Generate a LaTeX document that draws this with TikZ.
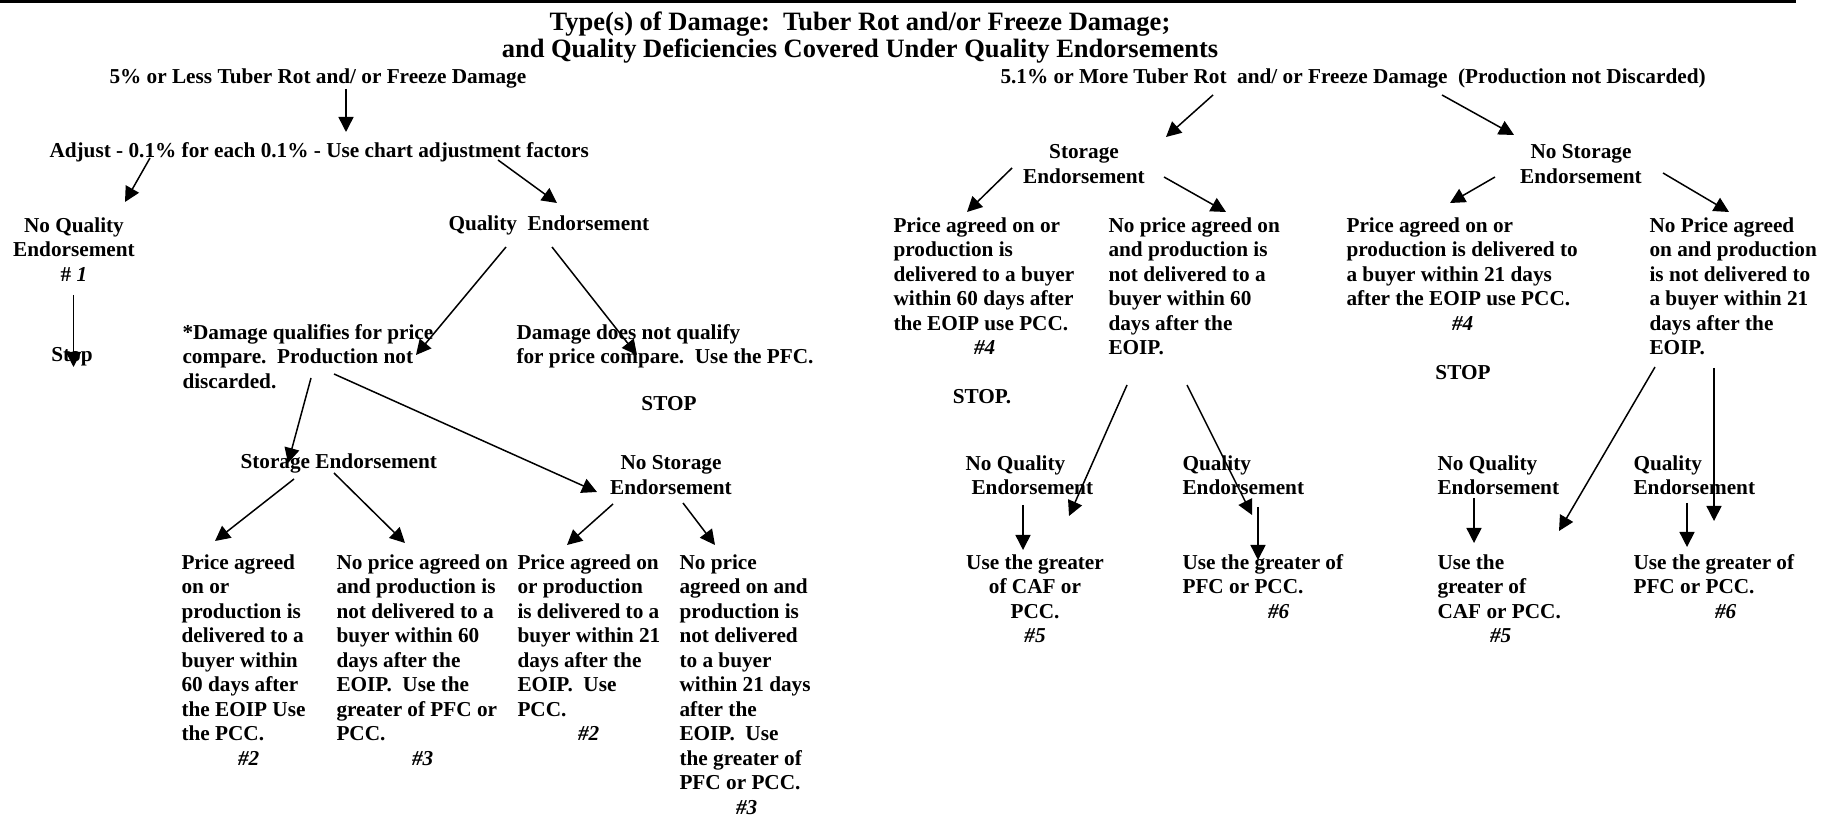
\documentclass[tikz,border=0pt]{standalone}
\usepackage{fontspec}
\setmainfont{Liberation Serif}
\usetikzlibrary{arrows.meta}
\begin{document}
\begin{tikzpicture}[x=0.4pt, y=-0.4pt,
	txt/.style={font=\bfseries\fontsize{8.5}{9.8}\selectfont, inner sep=0pt},
	col/.style={txt, align=left, anchor=north west},
	mid/.style={txt, align=center, anchor=north},
	pfeil/.style={line width=0.6pt, -{Triangle[length=6pt, width=6pt]}}]
	\useasboundingbox (0, 0) rectangle (1838, 817);
	\draw[line width=1.2pt](0, 2) -- (1796, 2);%Linie oben
	\node[txt, align=center, anchor=north, font=\bfseries\fontsize{10.6}{9.2}\selectfont] (title) at (860, 11)
		{Type(s) of Damage:\ \ Tuber Rot and/or Freeze Damage;\\and Quality Deficiencies Covered Under Quality Endorsements};

	%links
	\node[txt, anchor=west] (lessHead) at (109, 78) {5\% or Less Tuber Rot and/ or Freeze Damage};
	\node[txt, anchor=west] (adjust) at (49, 152) {Adjust - 0.1\% for each 0.1\% - Use chart adjustment factors};
	\node[mid] (noQual) at (74, 217) {No Quality\\Endorsement\\\# \textit{1}};
	\node[txt] (stopA) at (72, 357) {Stop};
	\node[txt, anchor=west] (qual) at (448, 225) {Quality\ \ Endorsement};
	\node[col] (qualifies) at (182, 324) {*Damage qualifies for price\\compare.\ \ Production not\\discarded.};
	\node[col] (notQualify) at (516, 324) {Damage does not qualify\\for price compare.\ \ Use the PFC.};
	\node[txt] (stopB) at (669, 404) {STOP};
	\node[txt, anchor=west] (storA) at (240, 463) {Storage Endorsement};
	\node[mid] (noStorA) at (671, 455) {No Storage\\Endorsement};
	\node[col] (priceA) at (181, 554) {Price agreed\\on or\\production is\\delivered to a\\buyer within\\60 days after\\the EOIP Use\\the PCC.\\\hspace*{22.6pt}\textit{\#2}};
	\node[col] (noPriceA) at (336, 554) {No price agreed on\\and production is\\not delivered to a\\buyer within 60\\days after the\\EOIP.\ \ Use the\\greater of PFC or\\PCC.\\\hspace*{30.2pt}\textit{\#3}};
	\node[col] (priceB) at (517, 554) {Price agreed on\\or production\\is delivered to a\\buyer within 21\\days after the\\EOIP.\ \ Use\\PCC.\\\hspace*{24.2pt}\textit{\#2}};
	\node[col] (noPriceB) at (679, 554) {No price\\agreed on and\\production is\\not delivered\\to a buyer\\within 21 days\\after the\\EOIP.\ \ Use\\the greater of\\PFC or PCC.\\\hspace*{22.6pt}\textit{\#3}};

	%rechts
	\node[txt, anchor=west] (moreHead) at (1000, 78) {5.1\% or More Tuber Rot\ \ and/ or Freeze Damage\ \ (Production not Discarded)};
	\node[mid] (storB) at (1084, 144) {Storage\\Endorsement};
	\node[mid] (noStorB) at (1581, 144) {No Storage\\Endorsement};
	\node[col] (priceC) at (893, 217) {Price agreed on or\\production is\\delivered to a buyer\\within 60 days after\\the EOIP use PCC.\\\hspace*{32.2pt}\textit{\#4}};
	\node[col] (noPriceC) at (1108, 217) {No price agreed on\\and production is\\not delivered to a\\buyer within 60\\days after the\\EOIP.};
	\node[txt] (stopC) at (982, 397) {STOP.};
	\node[col] (priceD) at (1346, 217) {Price agreed on or\\production is delivered to\\a buyer within 21 days\\after the EOIP use PCC.\\\hspace*{42.2pt}\textit{\#4}};
	\node[col] (noPriceD) at (1649, 217) {No Price agreed\\on and production\\is not delivered to\\a buyer within 21\\days after the\\EOIP.};
	\node[txt] (stopD) at (1463, 373) {STOP};
	\node[col] (noQualB) at (965, 455) {No Quality\\\hspace*{2.4pt}Endorsement};
	\node[col] (qualB) at (1182, 455) {Quality\\Endorsement};
	\node[mid] (useA) at (1035, 554) {Use the greater\\of CAF or\\PCC.\\\textit{\#5}};
	\node[col] (useB) at (1182, 554) {Use the greater of\\PFC or PCC.\\\hspace*{34.2pt}\textit{\#6}};
	\node[col] (noQualC) at (1437, 455) {No Quality\\Endorsement};
	\node[col] (qualC) at (1633, 455) {Quality\\Endorsement};
	\node[col] (useC) at (1437, 554) {Use the\\greater of\\CAF or PCC.\\\hspace*{21pt}\textit{\#5}};
	\node[col] (useD) at (1633, 554) {Use the greater of\\PFC or PCC.\\\hspace*{32.6pt}\textit{\#6}};

	%Pfeilenden
	\coordinate (a1) at (346, 89);   \coordinate (b1) at (346, 132);
	\coordinate (a2) at (150, 158);  \coordinate (b2) at (125, 202);
	\coordinate (a3) at (498, 160);  \coordinate (b3) at (557, 203);
	\coordinate (a4) at (73.5, 295); \coordinate (b4) at (73.5, 367);
	\coordinate (a5) at (506, 247);  \coordinate (b5) at (416, 355);
	\coordinate (a6) at (552, 247);  \coordinate (b6) at (637, 355);
	\coordinate (a7) at (311, 378);  \coordinate (b7) at (288, 463);
	\coordinate (a8) at (334, 374);  \coordinate (b8) at (597, 492);
	\coordinate (a9) at (294, 479);  \coordinate (b9) at (215, 541);
	\coordinate (a10) at (334, 473); \coordinate (b10) at (405, 543);
	\coordinate (a11) at (613, 504); \coordinate (b11) at (567, 545);
	\coordinate (a12) at (683, 503); \coordinate (b12) at (715, 545);
	\coordinate (a13) at (1213, 95); \coordinate (b13) at (1166, 137);
	\coordinate (a14) at (1442, 95); \coordinate (b14) at (1514, 135);
	\coordinate (a15) at (1012, 168);\coordinate (b15) at (967, 212);
	\coordinate (a16) at (1164, 177);\coordinate (b16) at (1226, 212);
	\coordinate (a17) at (1495, 177);\coordinate (b17) at (1450, 203);
	\coordinate (a18) at (1663, 173);\coordinate (b18) at (1729, 212);
	\coordinate (a19) at (1127, 385);\coordinate (b19) at (1069, 516);
	\coordinate (a20) at (1187, 385);\coordinate (b20) at (1252, 515);
	\coordinate (a21) at (1023, 505);\coordinate (b21) at (1023, 550);
	\coordinate (a22) at (1258, 507);\coordinate (b22) at (1258, 560);
	\coordinate (a23) at (1655, 367);\coordinate (b23) at (1559, 531);
	\coordinate (a24) at (1714, 368);\coordinate (b24) at (1714, 521);
	\coordinate (a25) at (1474, 498);\coordinate (b25) at (1474, 543);
	\coordinate (a26) at (1687, 503);\coordinate (b26) at (1687, 547);

	\foreach \i in {1,...,26}
		\draw[pfeil] (a\i) -- (b\i);

\end{tikzpicture}
\end{document}
